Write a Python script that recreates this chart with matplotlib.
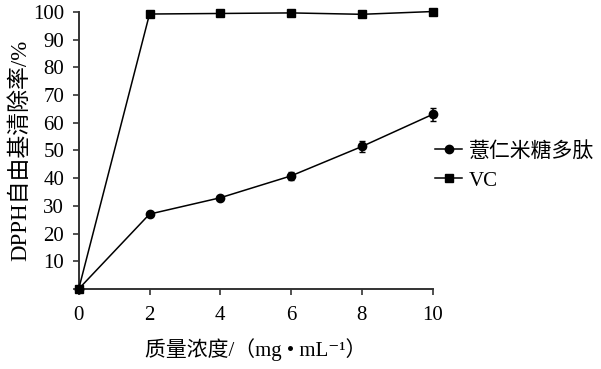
import matplotlib.pyplot as plt

plt.rcParams['font.family'] = ['Liberation Serif', 'Noto Sans CJK SC', 'DejaVu Serif']

# data
conc = [0, 2, 4, 6, 8, 10]
peptide = [0, 27.0, 32.9, 40.8, 51.4, 63.0]
peptide_err = [0, 0.6, 0.6, 1.5, 2.0, 2.4]
vc = [0, 99.2, 99.4, 99.6, 99.1, 100.1]
y_ticks = list(range(0, 101, 10))
x_ticks = [0, 2, 4, 6, 8, 10]

fig = plt.figure(figsize=(6.01, 3.69), dpi=100)
ax = fig.add_axes([0.131, 0.217, 0.589, 0.751])

ax.errorbar(conc, peptide, yerr=peptide_err, color='black', lw=1.1,
            fmt='none', capsize=2.5, elinewidth=1.1, clip_on=False, zorder=3)
l1, = ax.plot(conc, peptide, color='black', lw=1.1, marker='o', markersize=6,
              label='薏仁米糖多肽', clip_on=False, zorder=3)
l2, = ax.plot(conc, vc, color='black', lw=1.1, marker='s', markersize=6,
              label='VC', clip_on=False, zorder=3)

ax.set_xlim(0, 10)
ax.set_ylim(0, 100)
ax.set_xticks(x_ticks)
ax.set_yticks(y_ticks)
ax.set_yticklabels([''] + [str(v) for v in y_ticks[1:]])
ax.tick_params(labelsize=15, direction='out', length=4.5, width=1.2,
               colors='#333333', labelcolor='black')
ax.tick_params(axis='x', pad=8)
ax.tick_params(axis='y', pad=6)
for s in ['top', 'right']:
    ax.spines[s].set_visible(False)
for s in ['left', 'bottom']:
    ax.spines[s].set_linewidth(1.4)
    ax.spines[s].set_color('#333333')

ax.set_xlabel('质量浓度/（mg • mL⁻¹）', fontsize=15, labelpad=9)
ax.set_ylabel('DPPH自由基清除率/%', fontsize=16.5, labelpad=1)

fig.legend(handles=[l1, l2], loc='center left', bbox_to_anchor=(0.724, 0.55),
           frameon=False, fontsize=15, handlelength=1.3, handletextpad=0.3,
           labelspacing=0.45, borderpad=0, borderaxespad=0)

plt.savefig('out.png', dpi=100)
